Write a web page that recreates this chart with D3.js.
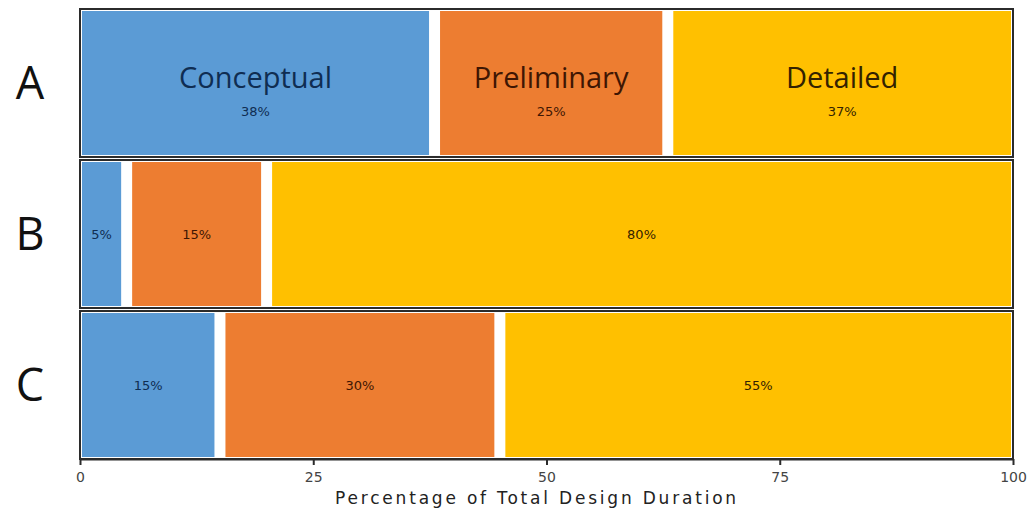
<!DOCTYPE html>
<html>
<head>
<meta charset="utf-8">
<script src="https://cdn.jsdelivr.net/npm/d3@7"></script>
<style>
  html, body { margin: 0; padding: 0; background: #fff; }
  svg { display: block; }
</style>
</head>
<body>
<svg id="chart" width="1030" height="512"></svg>
<script>
// Design projects and their phase shares (% of total design duration)
const projects = ["A", "B", "C"];
const phases = ["Conceptual", "Preliminary", "Detailed"];
const conceptual = [38, 5, 15];
const preliminary = [25, 15, 30];
const detailed = [37, 80, 55];
const xTicks = [0, 25, 50, 75, 100];
const phaseColors = ["#5b9bd5", "#ed7d31", "#ffc000"];
const phaseTextColors = ["#0f2d52", "#3f1603", "#332200"];

const rows = projects.map((p, i) => ({
  project: p,
  Conceptual: conceptual[i],
  Preliminary: preliminary[i],
  Detailed: detailed[i]
}));

const svg = d3.select("#chart");
const plotLeft = 80, plotRight = 1013, plotTop = 9, plotBottom = 459;

const x = d3.scaleLinear().domain([0, 100]).range([plotLeft, plotRight]);
const y = d3.scaleBand().domain(projects).range([plotTop, plotBottom]).paddingInner(0.02);
const color = d3.scaleOrdinal().domain(phases).range(phaseColors);
const textColor = d3.scaleOrdinal().domain(phases).range(phaseTextColors);

const series = d3.stack().keys(phases)(rows);

const gap = 11;     // white separation between phases
const inset = 2;    // bars sit just inside the panel frame

const segX0 = d => x(d.v[0]) + (d.v[0] > 0 ? gap / 2 : inset);
const segX1 = d => x(d.v[1]) - (d.v[1] < 100 ? gap / 2 : inset);
const segCenter = d => (segX0(d) + segX1(d)) / 2;

// coloured phase segments
const layer = svg.append("g").selectAll("g")
  .data(series)
  .join("g")
  .attr("fill", d => color(d.key));

layer.selectAll("rect")
  .data(d => d.map(v => ({ key: d.key, v })))
  .join("rect")
  .attr("x", segX0)
  .attr("width", d => Math.max(0, segX1(d) - segX0(d)))
  .attr("y", d => y(d.v.data.project) + inset)
  .attr("height", y.bandwidth() - inset * 2);

// panel frames
svg.append("g").selectAll("rect")
  .data(projects)
  .join("rect")
  .attr("x", x(0))
  .attr("y", d => y(d))
  .attr("width", x(100) - x(0))
  .attr("height", y.bandwidth())
  .attr("fill", "none")
  .attr("stroke", "#2b2b2b")
  .attr("stroke-width", 2);

const labels = svg.append("g").selectAll("g")
  .data(series)
  .join("g");

// phase names (shown once, in the first project)
labels.selectAll("text.name")
  .data(d => d.filter(v => v.data.project === projects[0]).map(v => ({ key: d.key, v })))
  .join("text")
  .attr("class", "name")
  .attr("x", segCenter)
  .attr("y", d => y(d.v.data.project) + 79)
  .attr("text-anchor", "middle")
  .attr("font-family", "'Open Sans', sans-serif")
  .attr("font-size", 29)
  .attr("font-weight", 500)
  .attr("fill", d => textColor(d.key))
  .text(d => d.key);

// percentage labels
labels.selectAll("text.pct")
  .data(d => d.map(v => ({ key: d.key, v })))
  .join("text")
  .attr("class", "pct")
  .attr("x", segCenter)
  .attr("y", d => y(d.v.data.project) + (d.v.data.project === projects[0] ? 107 : 79))
  .attr("text-anchor", "middle")
  .attr("font-family", "'DejaVu Sans', sans-serif")
  .attr("font-size", 13)
  .attr("fill", d => textColor(d.key))
  .text(d => (d.v[1] - d.v[0]) + "%");

// project letters on the left
svg.append("g").selectAll("text")
  .data(projects)
  .join("text")
  .attr("x", 30)
  .attr("y", d => y(d) + y.bandwidth() / 2 + 16)
  .attr("text-anchor", "middle")
  .attr("font-family", "'Open Sans', sans-serif")
  .attr("font-size", 45)
  .attr("fill", "#111")
  .text(d => d);

// x axis
const axis = svg.append("g")
  .attr("transform", `translate(0,${plotBottom})`)
  .call(d3.axisBottom(x).tickValues(xTicks).tickSize(6).tickSizeOuter(0).tickPadding(7));
axis.select(".domain").attr("stroke", "#2b2b2b").attr("stroke-width", 2);
axis.selectAll(".tick line").attr("stroke", "#2b2b2b").attr("stroke-width", 2);
axis.selectAll(".tick text")
  .attr("font-family", "'DejaVu Sans', sans-serif")
  .attr("font-size", 14)
  .attr("fill", "#444");

svg.append("text")
  .attr("x", 537)
  .attr("y", 504)
  .attr("text-anchor", "middle")
  .attr("font-family", "'DejaVu Sans', sans-serif")
  .attr("font-size", 17)
  .attr("letter-spacing", 2.8)
  .attr("fill", "#222")
  .text("Percentage of Total Design Duration");
</script>
</body>
</html>
